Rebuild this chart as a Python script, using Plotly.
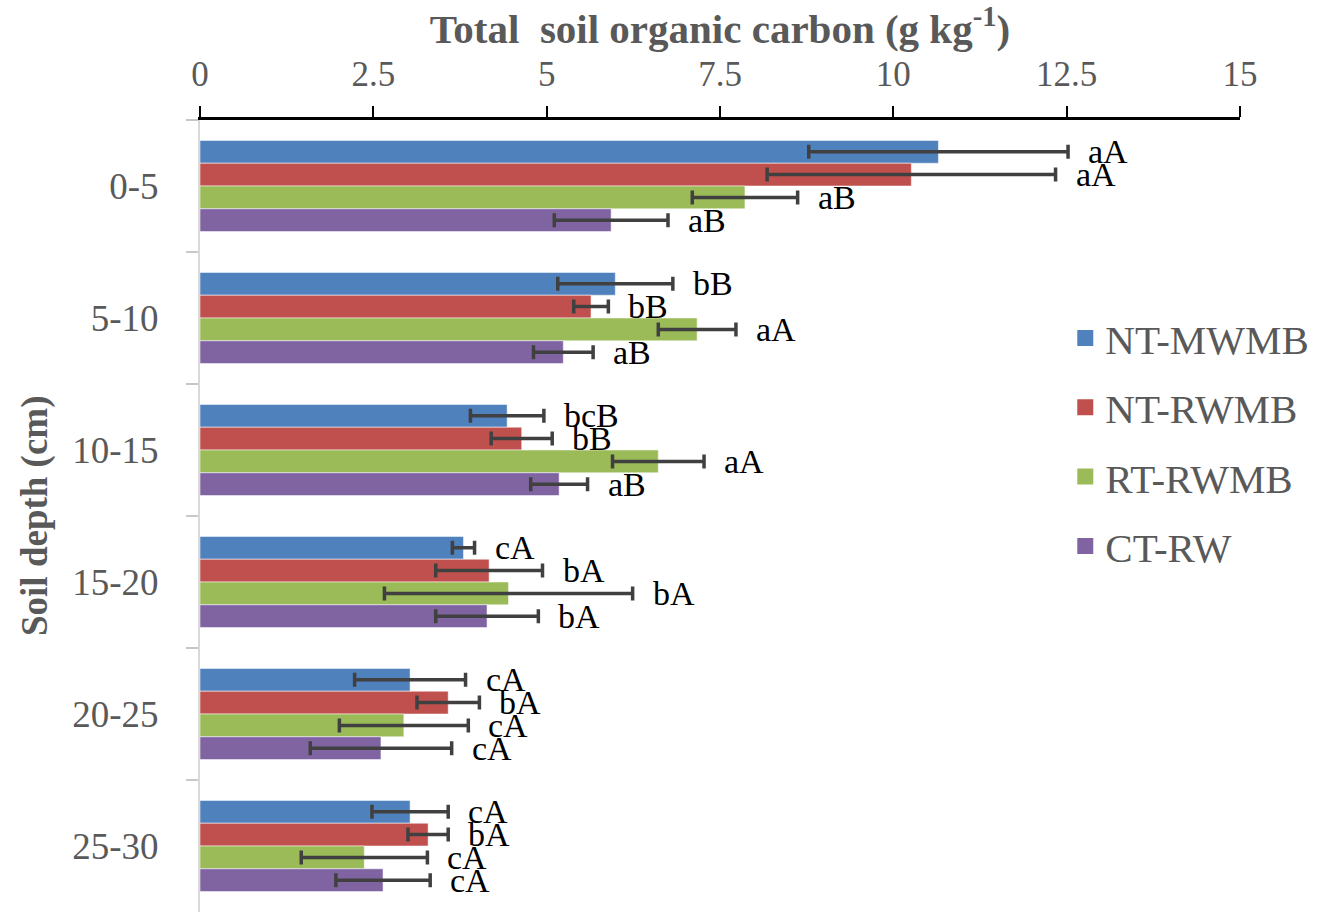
import plotly.graph_objects as go

# Soil depth layers (cm), top to bottom
depths = ["0-5", "5-10", "10-15", "15-20", "20-25", "25-30"]

# Tillage / residue treatments
treatments = ["NT-MWMB", "NT-RWMB", "RT-RWMB", "CT-RW"]

# Total soil organic carbon (g kg-1), mean per depth
soc_nt_mwmb = [10.65, 5.99, 4.43, 3.80, 3.03, 3.03]
soc_nt_rwmb = [10.26, 5.64, 4.64, 4.17, 3.58, 3.29]
soc_rt_rwmb = [7.86, 7.17, 6.61, 4.45, 2.94, 2.37]
soc_ct_rw = [5.93, 5.24, 5.18, 4.14, 2.61, 2.64]

# Standard deviations
sd_nt_mwmb = [1.87, 0.83, 0.53, 0.16, 0.80, 0.55]
sd_nt_rwmb = [2.08, 0.25, 0.44, 0.77, 0.45, 0.29]
sd_rt_rwmb = [0.76, 0.56, 0.66, 1.79, 0.93, 0.91]
sd_ct_rw = [0.82, 0.43, 0.41, 0.74, 1.02, 0.68]

# Significance letters
sig_nt_mwmb = ["aA", "bB", "bcB", "cA", "cA", "cA"]
sig_nt_rwmb = ["aA", "bB", "bB", "bA", "bA", "bA"]
sig_rt_rwmb = ["aB", "aA", "aA", "bA", "cA", "cA"]
sig_ct_rw = ["aB", "aB", "aB", "bA", "cA", "cA"]

means = [soc_nt_mwmb, soc_nt_rwmb, soc_rt_rwmb, soc_ct_rw]
sds = [sd_nt_mwmb, sd_nt_rwmb, sd_rt_rwmb, sd_ct_rw]
sigs = [sig_nt_mwmb, sig_nt_rwmb, sig_rt_rwmb, sig_ct_rw]
colors = ["#4F81BD", "#C0504D", "#9BBB59", "#8064A2"]

W, H = 1338, 914
M = dict(l=200, r=98, t=120, b=2)
BARGAP = 0.31
SERIF = "Liberation Serif, Times New Roman, serif"
GREY = "#595959"

fig = go.Figure()
for name, m, s, c in zip(treatments, means, sds, colors):
    fig.add_trace(go.Bar(
        y=depths, x=m, name=name, orientation="h",
        marker=dict(color=c, line=dict(color="rgba(255,255,255,0.5)", width=1)),
        error_x=dict(type="data", array=s, visible=True,
                     color="#404040", thickness=3.5, width=7),
        showlegend=False,
    ))

# Legend keys: larger square swatches than the default bar icon
for name, c in zip(treatments, colors):
    fig.add_trace(go.Scatter(
        x=[None], y=[None], mode="markers", name=name,
        marker=dict(symbol="square", size=20, color=c),
        legendgroup=name, showlegend=True,
    ))

# Letters placed just right of each error bar, centred on its bar
band_px = (H - M["t"] - M["b"]) / len(depths)
bar_px = band_px * (1 - BARGAP) / len(treatments)
annotations = []
for i, (m, s, lab) in enumerate(zip(means, sds, sigs)):
    shift = (1.5 - i) * bar_px
    for d, v, e, t in zip(depths, m, s, lab):
        annotations.append(dict(
            x=v + e, y=d, xref="x", yref="y", text=t, showarrow=False,
            xanchor="left", yanchor="middle", xshift=18, yshift=shift,
            font=dict(family=SERIF, size=34, color="#000000"),
        ))

# Vertical axis title, set further out than the axis title standoff allows
plot_w = W - M["l"] - M["r"]
annotations.append(dict(
    text="<b>Soil depth (cm)</b>", textangle=-90, showarrow=False,
    xref="paper", yref="paper", x=(35 - M["l"]) / plot_w, y=0.5,
    xanchor="center", yanchor="middle",
    font=dict(family=SERIF, size=37, color=GREY),
))

fig.update_layout(
    width=W, height=H, margin=M,
    paper_bgcolor="white", plot_bgcolor="white",
    barmode="group", bargap=BARGAP, bargroupgap=0,
    annotations=annotations,
    showlegend=True,
    legend=dict(
        x=0.832, y=0.593, xanchor="left", yanchor="middle",
        font=dict(family=SERIF, size=41, color=GREY),
        tracegroupgap=13, bgcolor="rgba(0,0,0,0)", itemwidth=30,
    ),
    xaxis=dict(
        side="top", range=[0, 15], dtick=2.5, tick0=0,
        showline=True, linecolor="#000000", linewidth=2.5,
        ticks="outside", ticklen=11, tickwidth=2, tickcolor="#000000",
        showgrid=False, zeroline=False,
        tickfont=dict(family=SERIF, size=35, color=GREY),
        ticklabelstandoff=6,
        title=dict(text="<b>Total  soil organic carbon (g kg<sup>-1</sup>)</b>",
                   font=dict(family=SERIF, size=41, color=GREY), standoff=6),
        automargin=False,
    ),
    yaxis=dict(
        type="category", autorange="reversed",
        showline=True, linecolor="#D9D9D9", linewidth=2,
        ticks="outside", tickson="boundaries", ticklen=12, tickwidth=2,
        tickcolor="#C8C8C8", showgrid=False, zeroline=False,
        tickfont=dict(family=SERIF, size=37, color=GREY),
        ticklabelstandoff=32,
        automargin=False,
    ),
)

fig.write_html("out.html")
